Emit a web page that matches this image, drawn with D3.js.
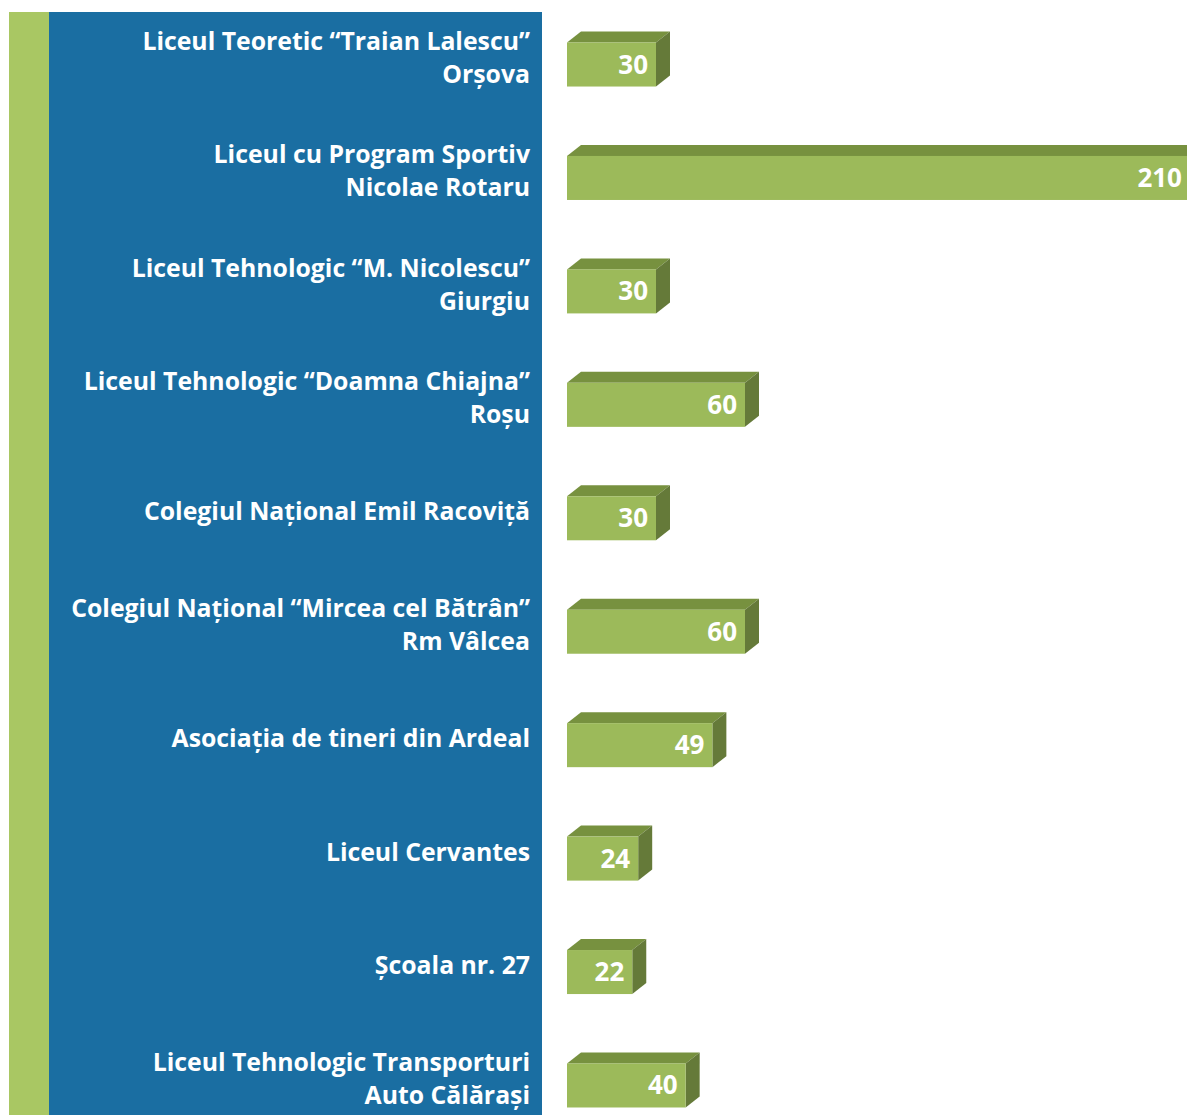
<!DOCTYPE html>
<html>
<head>
<meta charset="utf-8">
<script src="https://cdn.jsdelivr.net/npm/d3@7"></script>
<style>
  html, body { margin: 0; padding: 0; background: #fff; overflow: hidden; }
  svg { display: block; }
</style>
</head>
<body>
<svg id="chart"></svg>
<script>
// category labels (line breaks marked with \n)
const categories = [
  'Liceul Teoretic “Traian Lalescu”\nOrșova',
  'Liceul cu Program Sportiv\nNicolae Rotaru',
  'Liceul Tehnologic “M. Nicolescu”\nGiurgiu',
  'Liceul Tehnologic “Doamna Chiajna”\nRoșu',
  'Colegiul Național Emil Racoviță',
  'Colegiul Național “Mircea cel Bătrân”\nRm Vâlcea',
  'Asociația de tineri din Ardeal',
  'Liceul Cervantes',
  'Școala nr. 27',
  'Liceul Tehnologic Transporturi\nAuto Călărași'
];
const values = [30, 210, 30, 60, 30, 60, 49, 24, 22, 40];

const width = 1187;
const height = 1115;
const depth = { dx: 14, dy: 11 };

const svg = d3.select('#chart')
  .attr('width', width)
  .attr('height', height);

// side panels
svg.append('rect')
  .attr('x', 9).attr('y', 12)
  .attr('width', 40).attr('height', height - 12)
  .attr('fill', '#a9c763');
svg.append('rect')
  .attr('x', 49).attr('y', 12)
  .attr('width', 493).attr('height', height - 12)
  .attr('fill', '#1a6ea2');

const x = d3.scaleLinear()
  .domain([0, 30])
  .range([567, 656]);

const y = d3.scaleBand()
  .domain(categories)
  .range([7.8, 1142.2])
  .paddingInner(0.612)
  .paddingOuter(0.306);

const bars = svg.append('g')
  .selectAll('g')
  .data(categories.map((c, i) => ({ c, v: values[i] })))
  .join('g');

// top face
bars.append('path')
  .attr('fill', '#77913f')
  .attr('d', d => {
    const x0 = x(0), x1 = x(d.v), y0 = y(d.c);
    return `M${x0},${y0}L${x0 + depth.dx},${y0 - depth.dy}L${x1 + depth.dx},${y0 - depth.dy}L${x1},${y0}Z`;
  });

// side face
bars.append('path')
  .attr('fill', '#657a39')
  .attr('d', d => {
    const x1 = x(d.v), y0 = y(d.c), y1 = y0 + y.bandwidth();
    return `M${x1},${y0}L${x1 + depth.dx},${y0 - depth.dy}L${x1 + depth.dx},${y1 - depth.dy}L${x1},${y1}Z`;
  });

// front face
bars.append('rect')
  .attr('x', x(0))
  .attr('y', d => y(d.c))
  .attr('width', d => x(d.v) - x(0))
  .attr('height', y.bandwidth())
  .attr('fill', '#9cba5a');

// value labels
bars.append('text')
  .attr('x', d => Math.min(x(d.v), width + 3) - 8)
  .attr('y', d => y(d.c) + y.bandwidth() / 2 + 9)
  .attr('text-anchor', 'end')
  .attr('fill', '#fff')
  .attr('font-family', '"Open Sans", sans-serif')
  .attr('font-weight', 700)
  .attr('font-size', 26)
  .text(d => d.v);

// category labels
const labels = svg.append('g')
  .attr('font-family', '"Open Sans", sans-serif')
  .attr('font-weight', 700)
  .attr('font-size', 24.8)
  .attr('fill', '#fff')
  .attr('text-anchor', 'end')
  .selectAll('text')
  .data(categories)
  .join('text')
  .attr('x', 530)
  .attr('y', c => {
    const n = c.split('\n').length;
    return y(c) + y.bandwidth() / 2 + 2 - (n - 1) * 16.5;
  });

labels.selectAll('tspan')
  .data(c => c.split('\n'))
  .join('tspan')
  .attr('x', 530)
  .attr('dy', (d, i) => i === 0 ? 0 : 33)
  .text(d => d);
</script>
</body>
</html>
